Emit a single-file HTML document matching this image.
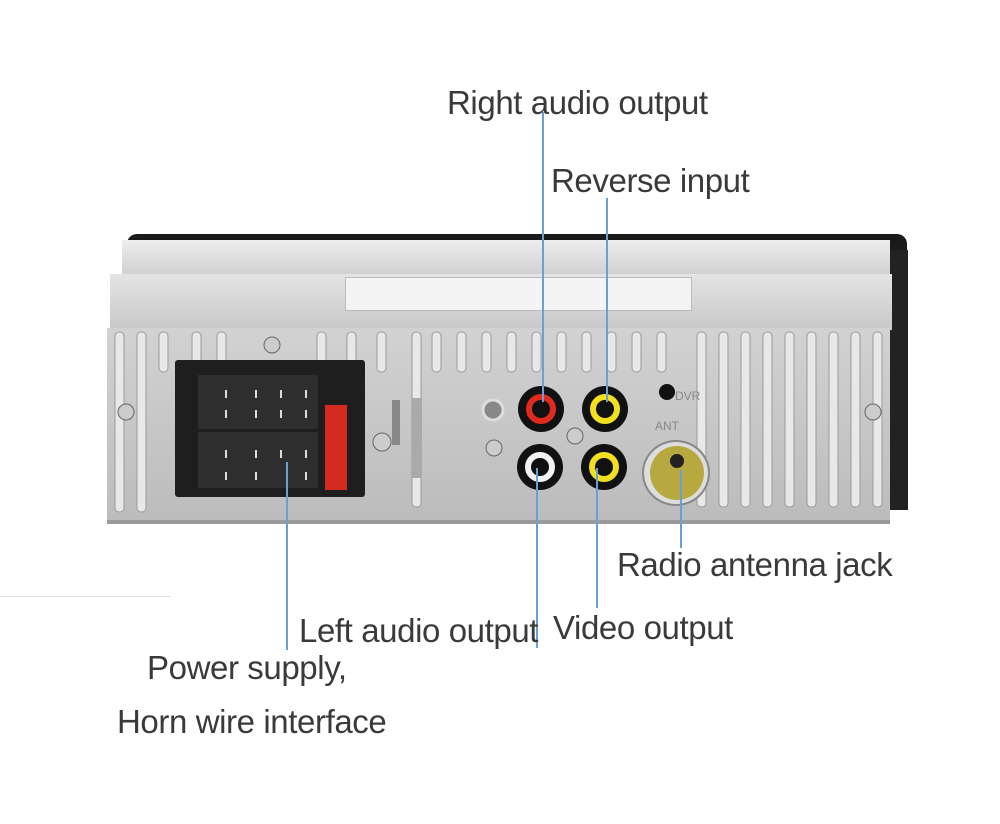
<!DOCTYPE html>
<html><head><meta charset="utf-8"><style>
body{margin:0;width:1000px;height:824px;background:#fff;position:relative;overflow:hidden;font-family:"Liberation Sans",sans-serif}
.a{position:absolute}
.t{position:absolute;font-size:33px;letter-spacing:-0.4px;color:#3a3a3a;white-space:nowrap;line-height:1}
.l{position:absolute;width:2px;background:#6a9fd8}
.jack{position:absolute;border-radius:50%;box-sizing:border-box}
.pin{position:absolute;width:2px;height:8px;background:#ddd}
</style></head><body>
<div class="a" style="left:127px;top:234px;width:780px;height:150px;background:#1a1a1a;border-radius:10px 10px 0 0"></div>
<div class="a" style="left:880px;top:250px;width:28px;height:260px;background:#222"></div>
<div class="a" style="left:122px;top:240px;width:768px;height:36px;background:linear-gradient(#eee,#cfcfcf)"></div>
<div class="a" style="left:110px;top:274px;width:782px;height:56px;background:linear-gradient(#e4e4e4,#c8c8c8)"></div>
<div class="a" style="left:345px;top:277px;width:345px;height:32px;background:#f4f4f4;border:1px solid #bbb"></div>
<div class="a" style="left:107px;top:328px;width:783px;height:192px;background:linear-gradient(#d2d2d2,#bcbcbc);border-bottom:4px solid #9a9a9a"></div>
<svg class="a" style="left:107px;top:330px" width="783" height="190">
<g fill="#e8e8e8" stroke="#9a9a9a" stroke-width="1">
<rect x="8" y="2" width="9" height="180" rx="4"/><rect x="30" y="2" width="9" height="180" rx="4"/>
<rect x="52" y="2" width="9" height="40" rx="4"/><rect x="85" y="2" width="9" height="40" rx="4"/><rect x="110" y="2" width="9" height="40" rx="4"/>
<rect x="210" y="2" width="9" height="50" rx="4"/><rect x="240" y="2" width="9" height="40" rx="4"/><rect x="270" y="2" width="9" height="40" rx="4"/>
<rect x="305" y="2" width="9" height="175" rx="4"/><rect x="325" y="2" width="9" height="40" rx="4"/><rect x="350" y="2" width="9" height="40" rx="4"/><rect x="375" y="2" width="9" height="40" rx="4"/>
<rect x="400" y="2" width="9" height="40" rx="4"/><rect x="425" y="2" width="9" height="40" rx="4"/><rect x="450" y="2" width="9" height="40" rx="4"/><rect x="475" y="2" width="9" height="40" rx="4"/>
<rect x="500" y="2" width="9" height="40" rx="4"/><rect x="525" y="2" width="9" height="40" rx="4"/><rect x="550" y="2" width="9" height="40" rx="4"/>
<rect x="590" y="2" width="9" height="175" rx="4"/><rect x="612" y="2" width="9" height="175" rx="4"/><rect x="634" y="2" width="9" height="175" rx="4"/><rect x="656" y="2" width="9" height="175" rx="4"/>
<rect x="678" y="2" width="9" height="175" rx="4"/><rect x="700" y="2" width="9" height="175" rx="4"/><rect x="722" y="2" width="9" height="175" rx="4"/><rect x="744" y="2" width="9" height="175" rx="4"/><rect x="766" y="2" width="9" height="175" rx="4"/>
</g>
<circle cx="19" cy="82" r="8" fill="#ccc" stroke="#666"/><circle cx="766" cy="82" r="8" fill="#ccc" stroke="#666"/>
<circle cx="165" cy="15" r="8" fill="#ccc" stroke="#666"/><circle cx="275" cy="112" r="9" fill="#ccc" stroke="#666"/>
<circle cx="468" cy="106" r="8" fill="#ccc" stroke="#666"/><circle cx="386" cy="80" r="10" fill="#888" stroke="#ddd" stroke-width="3"/>
<circle cx="387" cy="118" r="8" fill="#ccc" stroke="#666"/><circle cx="560" cy="62" r="8" fill="#111"/>
<text x="568" y="70" font-size="12" fill="#888" font-family="Liberation Sans">DVR</text>
<text x="548" y="100" font-size="12" fill="#888" font-family="Liberation Sans">ANT</text>
<rect x="285" y="70" width="8" height="45" fill="#888"/><rect x="305" y="68" width="10" height="80" fill="#aaa"/>
</svg>
<div class="a" style="left:175px;top:360px;width:190px;height:137px;background:#1e1e1e;border-radius:3px"></div>
<div class="a" style="left:198px;top:375px;width:120px;height:54px;background:#2e2e2e"></div>
<div class="a" style="left:198px;top:432px;width:120px;height:56px;background:#2e2e2e"></div>
<div class="a" style="left:325px;top:405px;width:22px;height:85px;background:#d42a20"></div>
<div class="pin" style="left:225px;top:390px"></div><div class="pin" style="left:255px;top:390px"></div><div class="pin" style="left:280px;top:390px"></div><div class="pin" style="left:305px;top:390px"></div>
<div class="pin" style="left:225px;top:410px"></div><div class="pin" style="left:255px;top:410px"></div><div class="pin" style="left:280px;top:410px"></div><div class="pin" style="left:305px;top:410px"></div>
<div class="pin" style="left:225px;top:450px"></div><div class="pin" style="left:255px;top:450px"></div><div class="pin" style="left:280px;top:450px"></div><div class="pin" style="left:305px;top:450px"></div>
<div class="pin" style="left:225px;top:472px"></div><div class="pin" style="left:255px;top:472px"></div><div class="pin" style="left:305px;top:472px"></div>
<div class="jack" style="left:518px;top:386px;width:46px;height:46px;background:#111"></div>
<div class="jack" style="left:526px;top:394px;width:30px;height:30px;border:6px solid #e02a1e;background:#111"></div>
<div class="jack" style="left:582px;top:386px;width:46px;height:46px;background:#111"></div>
<div class="jack" style="left:590px;top:394px;width:30px;height:30px;border:6px solid #f0e020;background:#111"></div>
<div class="jack" style="left:517px;top:444px;width:46px;height:46px;background:#111"></div>
<div class="jack" style="left:525px;top:452px;width:30px;height:30px;border:6px solid #f2f2f2;background:#111"></div>
<div class="jack" style="left:581px;top:444px;width:46px;height:46px;background:#111"></div>
<div class="jack" style="left:589px;top:452px;width:30px;height:30px;border:6px solid #f0e020;background:#111"></div>
<div class="jack" style="left:642px;top:440px;width:68px;height:66px;background:#ddd;border:2px solid #888"></div>
<div class="jack" style="left:650px;top:446px;width:54px;height:54px;background:#b8a840"></div>
<div class="jack" style="left:670px;top:454px;width:14px;height:14px;background:#222"></div>
<div class="a" style="left:0;top:596px;width:170px;height:1px;background:#ddd"></div>
<div class="l" style="left:542px;top:112px;height:290px"></div>
<div class="l" style="left:606px;top:198px;height:204px"></div>
<div class="l" style="left:536px;top:468px;height:180px"></div>
<div class="l" style="left:596px;top:468px;height:140px"></div>
<div class="l" style="left:680px;top:470px;height:78px"></div>
<div class="l" style="left:286px;top:462px;height:188px"></div>
<div class="t" style="left:447px;top:86px">Right audio output</div>
<div class="t" style="left:551px;top:164px">Reverse input</div>
<div class="t" style="left:617px;top:548px">Radio antenna jack</div>
<div class="t" style="left:299px;top:614px">Left audio output</div>
<div class="t" style="left:553px;top:611px">Video output</div>
<div class="t" style="left:147px;top:651px">Power supply,</div>
<div class="t" style="left:117px;top:705px">Horn wire interface</div>
</body></html>
